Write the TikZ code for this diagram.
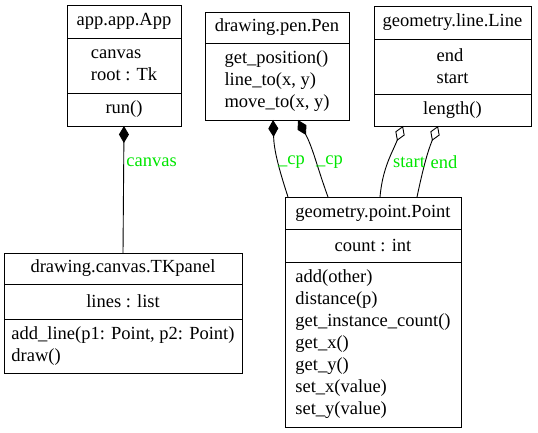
\documentclass[tikz,border=0pt]{standalone}
\usepackage{fontspec}
\setmainfont{Liberation Serif}
\usepackage{xcolor}
\usepackage{tikz}
\usetikzlibrary{positioning,arrows.meta}
\definecolor{cLbl}{RGB}{0,230,0}
\newcommand{\umlfont}{\fontsize{18.5}{22}\selectfont}

\begin{document}
\begin{tikzpicture}[x=1pt,y=1pt,node distance=0pt,font=\umlfont,line width=0.9pt,
   part/.style={draw,inner sep=0pt,outer sep=0pt,align=left},
   ttl/.style={part,align=center,minimum height=32pt},
   lbl/.style={text=cLbl,inner sep=0pt},
   comp/.style={{Diamond[length=17pt,width=10pt]}-},
   aggr/.style={{Diamond[open,length=16pt,width=10pt]}-}]
  \useasboundingbox (0,0) rectangle (538,433);
  % class boxes
  \node[ttl,minimum width=114pt,minimum height=33pt] (appt) at (124,411.5) {app.app.App};
  \node[part,minimum width=114pt,minimum height=55pt,below=of appt] (appa) {canvas\\ root : Tk};
  \node[part,minimum width=114pt,minimum height=33pt,below=of appa] (appm) {run()};

  \node[ttl,minimum width=144pt,minimum height=31pt] (pent) at (277,405.5) {drawing.pen.Pen};
  \node[part,minimum width=144pt,minimum height=77pt,below=of pent] (penm) {get\_position()\\ line\_to(x, y)\\ move\_to(x, y)};

  \node[ttl,minimum width=157pt,minimum height=33pt] (linet) at (452.5,410.5) {geometry.line.Line};
  \node[part,minimum width=157pt,minimum height=55pt,below=of linet] (linea) {end\\ start};
  \node[part,minimum width=157pt,minimum height=32pt,below=of linea] (linem) {length()};

  \node[ttl,minimum width=238pt,minimum height=31pt] (tkt) at (123,164.5) {drawing.canvas.TKpanel};
  \node[part,minimum width=238pt,minimum height=35pt,below=of tkt] (tka) {lines : list};
  \node[part,minimum width=238pt,minimum height=54pt,below=of tka] (tkm) {add\_line(p1: Point, p2: Point)\\ draw()};

  \node[ttl,minimum width=176pt,minimum height=32pt] (ptt) at (373,220) {geometry.point.Point};
  \node[part,minimum width=176pt,minimum height=33pt,below=of ptt] (pta) {count : int};
  \node[part,minimum width=176pt,minimum height=165pt,below=of pta] (ptm) {add(other)\\ distance(p)\\ get\_instance\_count()\\ get\_x()\\ get\_y()\\ set\_x(value)\\ set\_y(value)};

  % associations
  \draw[comp] (appm.south) -- (tkt.north);
  \draw[comp] ([xshift=-4pt]penm.south) to[out=-88,in=108] ([xshift=-85pt]ptt.north);
  \draw[comp] ([xshift=21pt]penm.south) to[out=-62,in=110] ([xshift=-45pt]ptt.north);
  \draw[aggr] ([xshift=-49.5pt]linem.south) to[out=-112,in=85] ([xshift=7pt]ptt.north);
  \draw[aggr] ([xshift=-14.5pt]linem.south) to[out=-112,in=78] ([xshift=44pt]ptt.north);

  % labels
  \node[lbl,anchor=west] (lcanvas) at (126,271) {canvas};
  \node[lbl] (lcp1) at (291.5,271) {\_cp};
  \node[lbl] (lcp2) at (329.5,271) {\_cp};
  \node[lbl] (lstart) at (409,271) {start};
  \node[lbl] (lend) at (444,271) {end};
\end{tikzpicture}
\end{document}
